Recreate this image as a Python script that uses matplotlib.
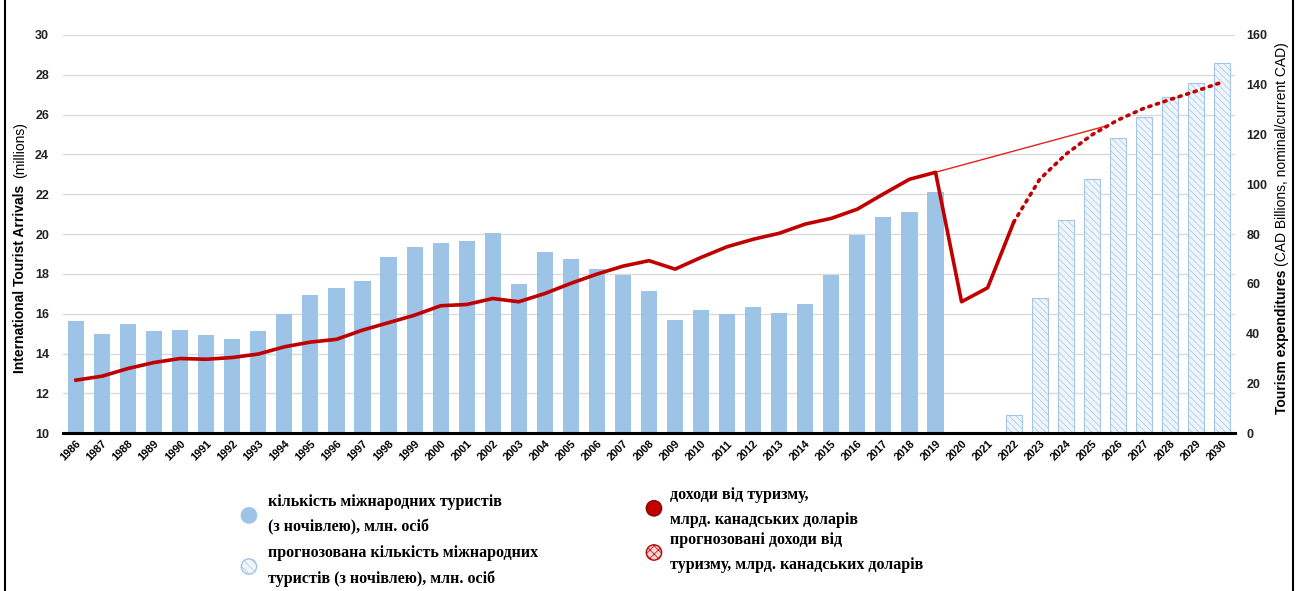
import matplotlib
matplotlib.use("Agg")
import matplotlib.pyplot as plt
from matplotlib.patches import Patch, Circle
from matplotlib.legend_handler import HandlerPatch
from matplotlib.lines import Line2D

# Arrivals (millions), actual and forecast
years_actual = list(range(1986, 2020))
arrivals_actual = [15.65, 15.0, 15.5, 15.13, 15.2, 14.92, 14.74, 15.13, 15.96, 16.95,
                   17.3, 17.64, 18.84, 19.37, 19.57, 19.65, 20.03, 17.5, 19.12, 18.74,
                   18.24, 17.92, 17.12, 15.7, 16.18, 16.0, 16.32, 16.02, 16.5, 17.95,
                   19.97, 20.85, 21.1, 22.1]
years_forecast = list(range(2022, 2031))
arrivals_forecast = [10.9, 16.8, 20.7, 22.78, 24.83, 25.9, 26.9, 27.6, 28.6]

# Tourism expenditures (CAD billions)
spend_years = list(range(1986, 2023))
spend = [21.3, 22.9, 26.0, 28.4, 30.0, 29.7, 30.4, 31.8, 34.7, 36.6,
         37.7, 41.4, 44.4, 47.4, 51.2, 51.7, 54.1, 52.8, 56.1, 60.2,
         63.9, 67.1, 69.3, 65.9, 70.6, 74.9, 77.9, 80.3, 84.0, 86.3,
         90.0, 96.1, 102.0, 104.8, 52.8, 58.4, 84.7]
spend_fc_years = list(range(2022, 2031))
spend_fc = [84.7, 102.0, 112.0, 119.8, 125.8, 130.5, 134.0, 137.4, 141.0]
trend_years = [2019, 2025.55]
trend_vals = [104.8, 123.4]

all_years = list(range(1986, 2031))

BLUE = "#9DC3E6"
BLUE_FC = "#EEF5FC"
BLUE_HATCH = "#A7C4E0"
RED = "#C00000"

plt.rcParams["font.family"] = ["Liberation Sans", "DejaVu Sans"]
plt.rcParams["hatch.linewidth"] = 0.5

fig = plt.figure(figsize=(13.01, 5.91), dpi=100)
ax = fig.add_axes([0.0484, 0.267, 0.9009, 0.674])
ax2 = ax.twinx()

ax.bar(years_actual, arrivals_actual, width=0.62, color=BLUE, zorder=2)
ax.bar(years_forecast, arrivals_forecast, width=0.62, facecolor=BLUE_FC,
       edgecolor=BLUE_HATCH, linewidth=0.8, hatch="\\\\\\\\\\", zorder=2)

ax.set_xlim(1985.5, 2030.5)
ax.set_ylim(10, 30)
ax.set_yticks(range(10, 31, 2))
ax.yaxis.grid(True, color="#DADADA", linewidth=1.0, zorder=0)
ax.set_axisbelow(True)
ax.set_xticks(all_years)
ax.set_xticklabels([str(y) for y in all_years], rotation=45, ha="right",
                   rotation_mode="anchor", fontsize=7.8, fontweight="bold")
ax.tick_params(axis="x", length=0, pad=4)
ax.tick_params(axis="y", length=0, pad=10, labelsize=9, labelcolor="#222222")
for lbl in ax.get_yticklabels():
    lbl.set_fontweight("bold")

ax2.plot(spend_years, spend, color=RED, linewidth=2.6, solid_joinstyle="round", zorder=4)
ax2.plot(spend_fc_years, spend_fc, color=RED, linewidth=2.6, linestyle=(0, (0.6, 1.6)),
         dash_capstyle="round", zorder=4)
ax2.plot(trend_years, trend_vals, color="#E8201A", linewidth=1.0, zorder=3)
ax2.set_ylim(0, 160)
ax2.set_yticks(range(0, 161, 20))
ax2.tick_params(axis="y", length=0, pad=8, labelsize=9, labelcolor="#222222")
for lbl in ax2.get_yticklabels():
    lbl.set_fontweight("bold")

for a in (ax, ax2):
    for side in ("top", "left", "right", "bottom"):
        a.spines[side].set_visible(False)
ax.spines["bottom"].set_visible(True)
ax.spines["bottom"].set_linewidth(2.2)
ax.spines["bottom"].set_color("black")
ax.spines["bottom"].set_zorder(5)

# axis titles: bold part followed by regular part
fig.text(0.0155, 1 - 373 / 591, "International Tourist Arrivals", rotation=90,
         ha="center", va="bottom", fontsize=10, fontweight="bold")
fig.text(0.0155, 1 - 178 / 591, "(millions)", rotation=90,
         ha="center", va="bottom", fontsize=10)
fig.text(0.9855, 1 - 414 / 591, "Tourism expenditures", rotation=90,
         ha="center", va="bottom", fontsize=10, fontweight="bold")
fig.text(0.9855, 1 - 266 / 591, "(CAD Billions, nominal/current CAD)", rotation=90,
         ha="center", va="bottom", fontsize=10)


def make_circle(legend, orig_handle, xdescent, ydescent, width, height, fontsize):
    r = 0.48 * fontsize
    return Circle((width / 2 - xdescent, height / 2 - ydescent), r)


legend_font = {"family": "Liberation Serif", "weight": "bold", "size": 11.5}
circle_handler = {Patch: HandlerPatch(patch_func=make_circle)}

# left column: arrivals
arr_handles = [
    Patch(facecolor=BLUE, edgecolor=BLUE),
    Patch(facecolor=BLUE_FC, edgecolor=BLUE_HATCH, hatch="\\\\\\\\"),
]
arr_labels = [
    "кількість міжнародних туристів\n(з ночівлею), млн. осіб",
    "прогнозована кількість міжнародних\nтуристів (з ночівлею), млн. осіб",
]
leg1 = fig.legend(arr_handles, arr_labels, loc="upper left",
                  bbox_to_anchor=(233 / 1301, 1 - 488 / 591), frameon=False,
                  prop=legend_font, handler_map=circle_handler,
                  handlelength=1.2, handletextpad=0.6, labelspacing=0.6,
                  borderaxespad=0)

# right column: expenditures
exp_handles = [
    Patch(facecolor=RED, edgecolor="#8B0000"),
    Patch(facecolor="#F6D5D5", edgecolor=RED, hatch="xxxx"),
]
exp_labels = [
    "доходи від туризму,\nмлрд. канадських доларів",
    "прогнозовані доходи від\nтуризму, млрд. канадських доларів",
]
leg2 = fig.legend(exp_handles, exp_labels, loc="upper left",
                  bbox_to_anchor=(638 / 1301, 1 - 481 / 591), frameon=False,
                  prop=legend_font, handler_map=circle_handler,
                  handlelength=1.2, handletextpad=0.4, labelspacing=0.2,
                  borderaxespad=0)

for leg in (leg1, leg2):
    for t in leg.get_texts():
        t.set_linespacing(1.75)

# frame lines on the left and right edges
fig.add_artist(Line2D([5 / 1301, 5 / 1301], [0, 1], transform=fig.transFigure,
                      color="black", linewidth=1.5))
fig.add_artist(Line2D([1293 / 1301, 1293 / 1301], [0, 1], transform=fig.transFigure,
                      color="black", linewidth=1.5))

fig.savefig("out.png", dpi=100, facecolor="white")
